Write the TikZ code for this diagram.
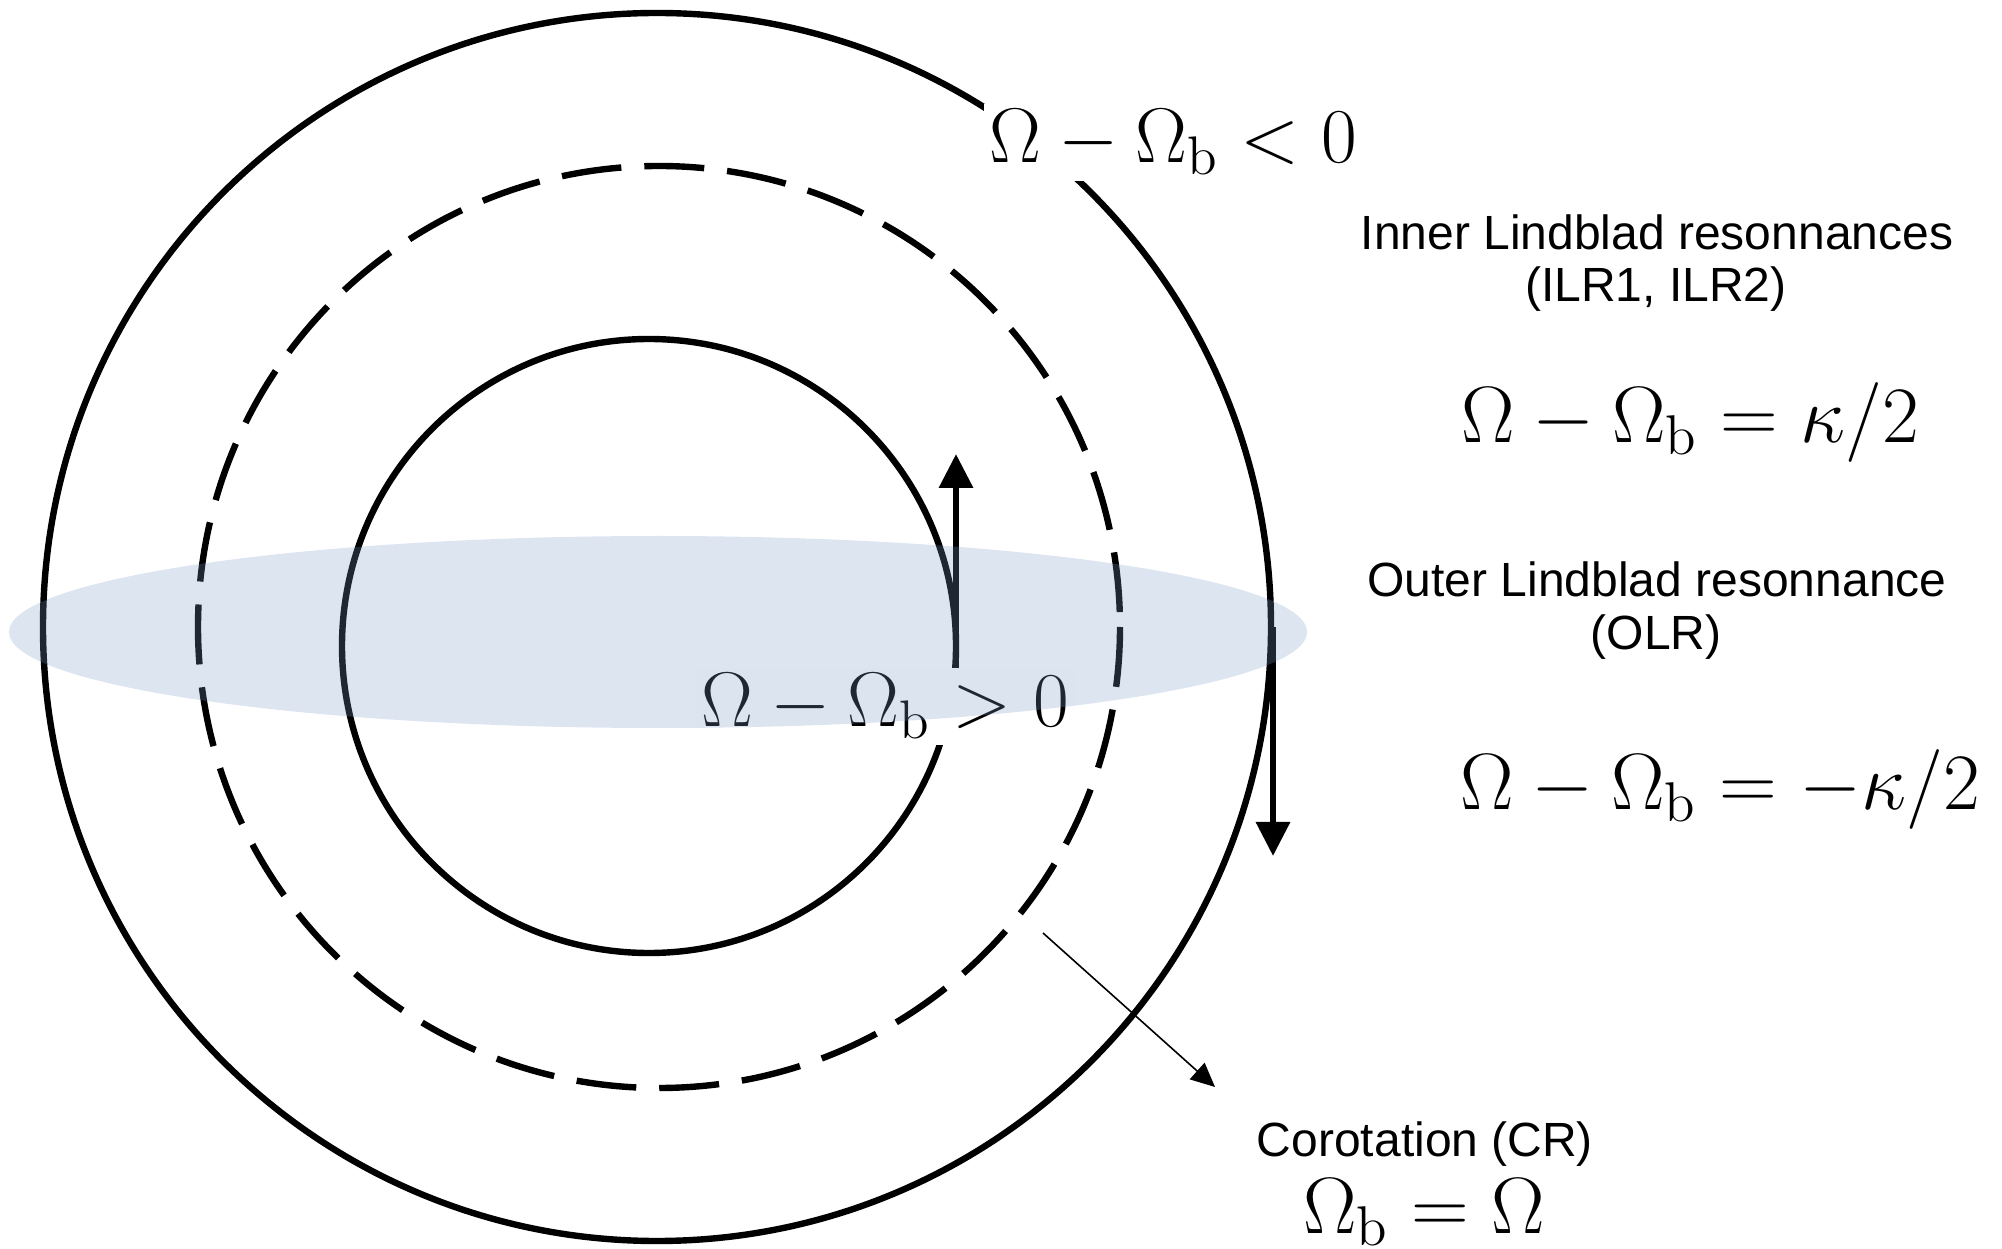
\RequirePackage{fix-cm}
\documentclass[tikz,border=0pt]{standalone}
\usepackage{fontspec}
\newfontfamily\lsans{Liberation Sans}
\usetikzlibrary{arrows.meta}
\definecolor{diskblue}{rgb}{0.48,0.60,0.78}
\begin{document}
\begin{tikzpicture}[x=0.25pt,y=-0.25pt,
  ring/.style={line width=1.6pt},
  dashring/.style={line width=1.6pt, dash pattern=on 15pt off 5.75pt},
  bigarrow/.style={line width=1.6pt, -{Triangle[width=8.25pt,length=8.5pt]}},
  thinarrow/.style={line width=0.4pt, -{Triangle[width=5.5pt,length=6pt]}},
  mathlbl/.style={font=\fontsize{20}{24}\selectfont, inner sep=0pt, anchor=base},
  masklbl/.style={fill=white, inner sep=1.4pt, anchor=base, font=\fontsize{19.4}{23}\selectfont},
  txtlbl/.style={font=\lsans\fontsize{12}{14}\selectfont, inner sep=0pt, anchor=base},
]
\useasboundingbox (0,0) rectangle (2002,1249);
\coordinate (Cout) at (657,627);
\coordinate (Cmid) at (659,627);
\coordinate (Cin) at (649,646);
\draw[ring] (Cout) circle[radius=614];
\draw[dashring] (Cmid) circle[radius=461];
\draw[ring] (Cin) circle[radius=307];
% rotation arrows
\coordinate (upS) at (956,690);
\coordinate (upE) at (956,454);
\draw[bigarrow] (upS) -- (upE);
\coordinate (dnS) at (1273,627);
\coordinate (dnE) at (1273,856);
\draw[bigarrow] (dnS) -- (dnE);
% labels on the rings
\node[masklbl] (neg) at (1173,163) {$\Omega-\Omega_{\mathrm{b}}<0$};
\node[masklbl] (pos) at (885,727) {$\Omega-\Omega_{\mathrm{b}}>0$};
% disk
\fill[diskblue, fill opacity=0.26] (658,632) ellipse [x radius=649, y radius=96];
% corotation pointer
\coordinate (crS) at (1043,933);
\coordinate (crE) at (1215,1087);
\draw[thinarrow] (crS) -- (crE);
% right column
\node[txtlbl] (ilr) at (1657,250) {Inner Lindblad resonnances};
\node[txtlbl] (ilrb) at (1656,302) {(ILR1, ILR2)};
\node[mathlbl] (ilreq) at (1690,443) {$\Omega-\Omega_{\mathrm{b}}=\kappa/2$};
\node[txtlbl] (olr) at (1657,597) {Outer Lindblad resonnance};
\node[txtlbl] (olrb) at (1656,650) {(OLR)};
\node[mathlbl] (olreq) at (1720,810) {$\Omega-\Omega_{\mathrm{b}}=-\kappa/2$};
\node[txtlbl] (cr) at (1425,1156) {Corotation (CR)};
\node[mathlbl] (creq) at (1424,1233) {$\Omega_{\mathrm{b}}=\Omega$};
\end{tikzpicture}
\end{document}
